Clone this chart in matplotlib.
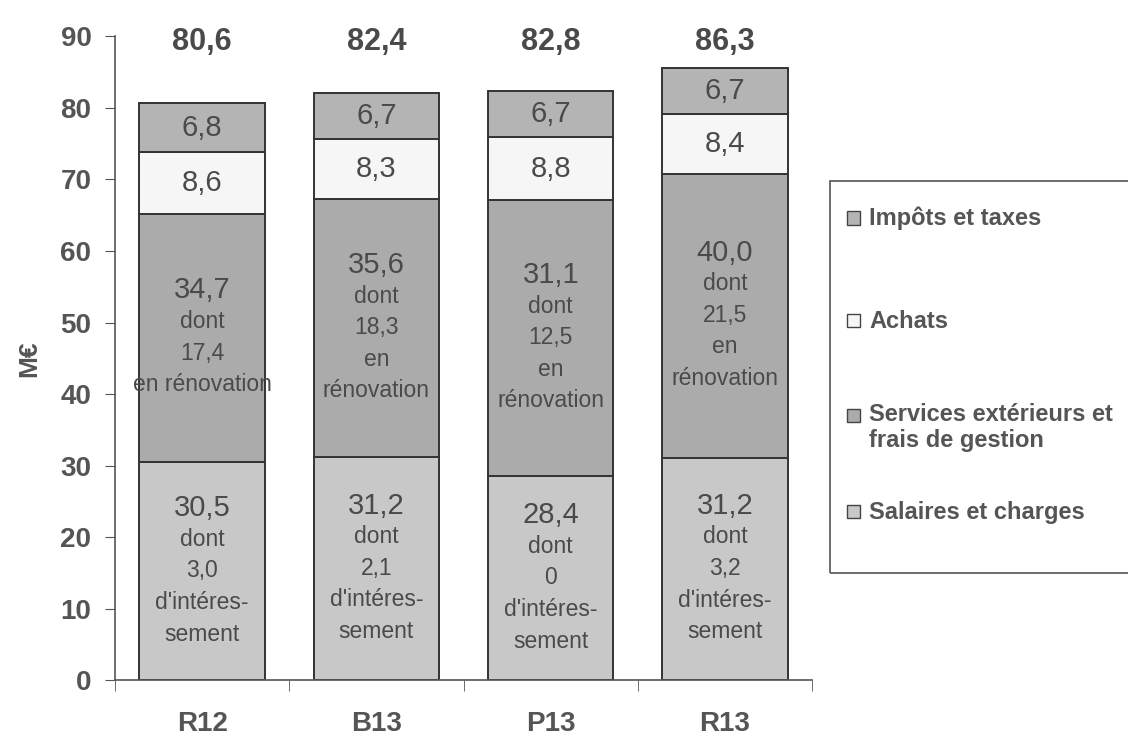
import numpy as np
import matplotlib.pyplot as plt
from matplotlib.patches import Rectangle

plt.rcParams['font.family'] = ['Liberation Sans', 'DejaVu Sans']

categories = ['R12', 'B13', 'P13', 'R13']
totals = [80.6, 82.4, 82.8, 86.3]

# printed values (labels)
salaires = [30.5, 31.2, 28.4, 31.2]
services = [34.7, 35.6, 31.1, 40.0]
achats = [8.6, 8.3, 8.8, 8.4]
impots = [6.8, 6.7, 6.7, 6.7]
interessement = [3.0, 2.1, 0, 3.2]
renovation = [17.4, 18.3, 12.5, 21.5]

# segment heights as drawn in the source (P13 services is drawn taller than its label)
salaires_h = [30.5, 31.2, 28.5, 31.1]
services_h = [34.7, 36.0, 38.6, 39.7]
achats_h = [8.6, 8.4, 8.8, 8.3]
impots_h = [6.8, 6.5, 6.5, 6.5]

series_names = ['Salaires et charges', 'Services extérieurs et\nfrais de gestion',
                'Achats', 'Impôts et taxes']
colors = ['#c8c8c8', '#ababab', '#f6f6f6', '#b4b4b4']
txt_col = '#4a4a4a'


def fr(v):
    if v == 0:
        return '0'
    return f'{v:.1f}'.replace('.', ',')


W, H = 1128, 738
fig = plt.figure(figsize=(W / 100, H / 100), dpi=100)
ax = fig.add_axes([0.102, 0.078, 0.618, 0.873])

x = np.arange(len(categories))
width = 0.72
bottom = np.zeros(len(categories))
for vals, col in zip([salaires_h, services_h, achats_h, impots_h], colors):
    ax.bar(x, vals, width, bottom=bottom, color=col, edgecolor='#333333', linewidth=1.4)
    bottom = bottom + np.array(vals)

L = 22.0  # line height in points


def block(xi, mid, number, details):
    n = details.count('\n') + 1
    ax.annotate(number, xy=(xi, mid), xytext=(0, n / 2 * L + 1.5), textcoords='offset points',
                ha='center', va='center', fontsize=21, color=txt_col)
    ax.annotate(details, xy=(xi, mid), xytext=(0, -L / 2), textcoords='offset points',
                ha='center', va='center', fontsize=16.5, color=txt_col, linespacing=1.48)


for i in range(len(categories)):
    b1 = salaires_h[i]
    b2 = b1 + services_h[i]
    b3 = b2 + achats_h[i]
    b4 = b3 + impots_h[i]
    block(x[i], b1 / 2, fr(salaires[i]),
          "dont\n" + fr(interessement[i]) + "\nd'intéres-\nsement")
    if i == 0:
        det = "dont\n" + fr(renovation[i]) + "\nen rénovation"
    else:
        det = "dont\n" + fr(renovation[i]) + "\nen\nrénovation"
    block(x[i], (b1 + b2) / 2, fr(services[i]), det)
    ax.text(x[i], (b2 + b3) / 2, fr(achats[i]), ha='center', va='center', fontsize=21, color=txt_col)
    ax.text(x[i], (b3 + b4) / 2, fr(impots[i]), ha='center', va='center', fontsize=21, color=txt_col)
    ax.text(x[i], 89.2, fr(totals[i]), ha='center', va='center', fontsize=22,
            fontweight='bold', color=txt_col, clip_on=False)

ax.set_xlim(-0.5, len(categories) - 0.5)
ax.set_ylim(0, 90)
ax.set_yticks(range(0, 91, 10))
ax.set_xticks(x)
ax.set_xticklabels(categories)
ax.set_xticks(np.arange(-0.5, len(categories)), minor=True)
ax.tick_params(axis='x', which='major', length=0, pad=22, labelsize=20, labelcolor='#555555')
ax.tick_params(axis='x', which='minor', length=8, color='#555555', direction='out')
ax.tick_params(axis='y', length=7, color='#555555', labelsize=20, labelcolor='#555555', pad=10)
for lab in ax.get_xticklabels() + ax.get_yticklabels():
    lab.set_fontweight('bold')
for s in ['top', 'right']:
    ax.spines[s].set_visible(False)
for s in ['left', 'bottom']:
    ax.spines[s].set_color('#555555')
    ax.spines[s].set_linewidth(1.2)

ax.set_ylabel('M€', fontsize=19, fontweight='bold', color='#555555', labelpad=14)

# legend box (runs off the right edge, as in the source), drawn by hand
fig.patches.append(Rectangle((830 / W, 1 - 573 / H), 0.3, 392 / H,
                             transform=fig.transFigure, facecolor='none',
                             edgecolor='#555555', linewidth=1.2))
legend_rows = [218, 320, 415, 511]  # pixel rows of the first text line, top to bottom
for name, col, yrow in zip(series_names[::-1], colors[::-1], legend_rows):
    fig.patches.append(Rectangle((847 / W, 1 - (yrow + 6.5) / H), 13 / W, 13 / H,
                                 transform=fig.transFigure, facecolor=col,
                                 edgecolor='#444444', linewidth=1.0))
    extra = name.count('\n')
    fig.text(869 / W, 1 - (yrow + 7.5 + 25 * extra) / H, name, ha='left', va='baseline',
             fontsize=17, fontweight='bold', color='#555555', linespacing=1.18)

fig.savefig('out.png', dpi=100)
